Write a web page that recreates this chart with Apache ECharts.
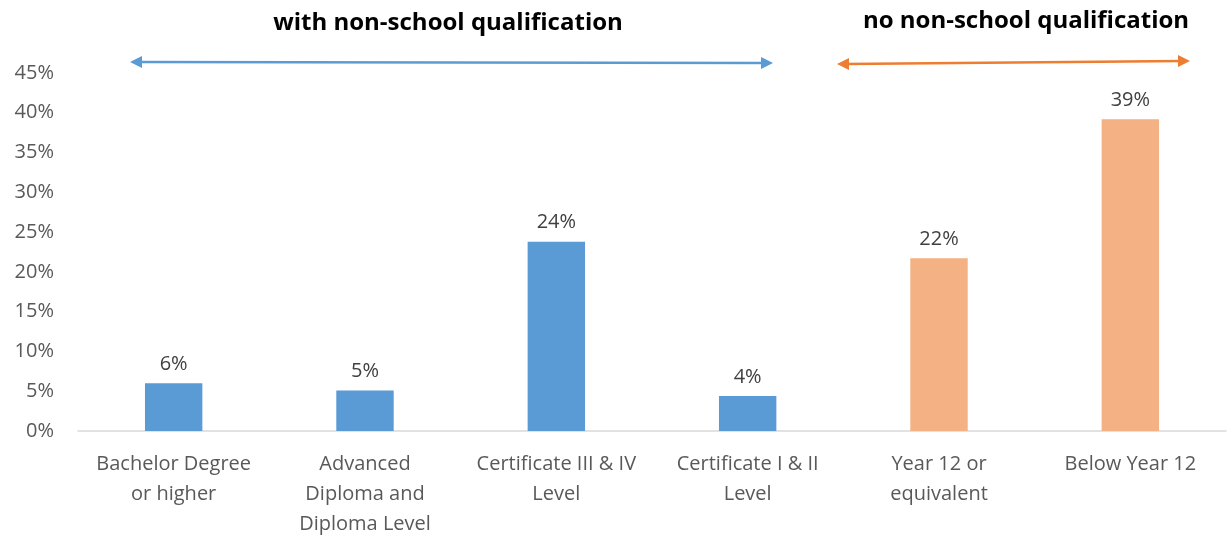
<!DOCTYPE html>
<html>
<head>
<meta charset="utf-8">
<script src="https://cdn.jsdelivr.net/npm/echarts@6/dist/echarts.min.js"></script>
<style>
  html, body { margin: 0; padding: 0; background: #fff; }
  #main { width: 1228px; height: 539px; }
</style>
</head>
<body>
<div id="main"></div>
<script>
var categories = ['Bachelor Degree\nor higher', 'Advanced\nDiploma and\nDiploma Level', 'Certificate III & IV\nLevel',
    'Certificate I & II\nLevel', 'Year 12 or\nequivalent', 'Below Year 12'];
var values = [6.0, 5.1, 23.8, 4.4, 21.7, 39.2];
var barColors = ['#5B9BD5', '#5B9BD5', '#5B9BD5', '#5B9BD5', '#F4B183', '#F4B183'];
var groupTitles = ['with non-school qualification', 'no non-school qualification'];

var font = '"Open Sans", "Liberation Sans", sans-serif';

// arrow: line plus two heads
function arrow(x1, y1, x2, y2, color) {
    var h = 12, w = 6;
    return [
        { type: 'line', shape: { x1: x1 + 8, y1: y1, x2: x2 - 8, y2: y2 }, style: { stroke: color, lineWidth: 2.5 } },
        { type: 'polygon', shape: { points: [[x1, y1], [x1 + h, y1 - w], [x1 + h, y1 + w]] }, style: { fill: color } },
        { type: 'polygon', shape: { points: [[x2, y2], [x2 - h, y2 - w], [x2 - h, y2 + w]] }, style: { fill: color } }
    ];
}

var myChart = echarts.init(document.getElementById('main'));
var option = {
    animation: false,
    backgroundColor: '#fff',
    grid: { left: 78, right: 2, top: 73, bottom: 106 },
    xAxis: {
        type: 'category',
        data: categories,
        axisTick: { show: false },
        axisLine: { lineStyle: { color: '#D9D9D9', width: 1.5 } },
        axisLabel: { color: '#595959', fontSize: 20, fontFamily: font, lineHeight: 30, margin: 18, interval: 0 }
    },
    yAxis: {
        type: 'value',
        min: 0,
        max: 45,
        interval: 5,
        splitLine: { show: false },
        axisLine: { show: false },
        axisTick: { show: false },
        axisLabel: { color: '#595959', fontSize: 20, fontFamily: font, margin: 24, formatter: '{value}%' }
    },
    series: [{
        type: 'bar',
        barWidth: '30%',
        data: values.map(function (v, i) {
            return { value: v, itemStyle: { color: barColors[i] } };
        }),
        label: {
            show: true,
            position: 'top',
            distance: 9,
            color: '#404040',
            fontSize: 20,
            fontFamily: font,
            formatter: function (p) { return Math.round(p.value) + '%'; }
        }
    }],
    graphic: [
        { type: 'text', x: 448, y: 11, style: { text: groupTitles[0], fontSize: 24, fontWeight: 'bold', fill: '#000', fontFamily: font, textAlign: 'center' } },
        { type: 'text', x: 1026, y: 9, style: { text: groupTitles[1], fontSize: 24, fontWeight: 'bold', fill: '#000', fontFamily: font, textAlign: 'center' } }
    ].concat(arrow(130, 62, 773, 63, '#5B9BD5')).concat(arrow(837, 64, 1190, 61, '#ED7D31'))
};
myChart.setOption(option);
</script>
</body>
</html>
